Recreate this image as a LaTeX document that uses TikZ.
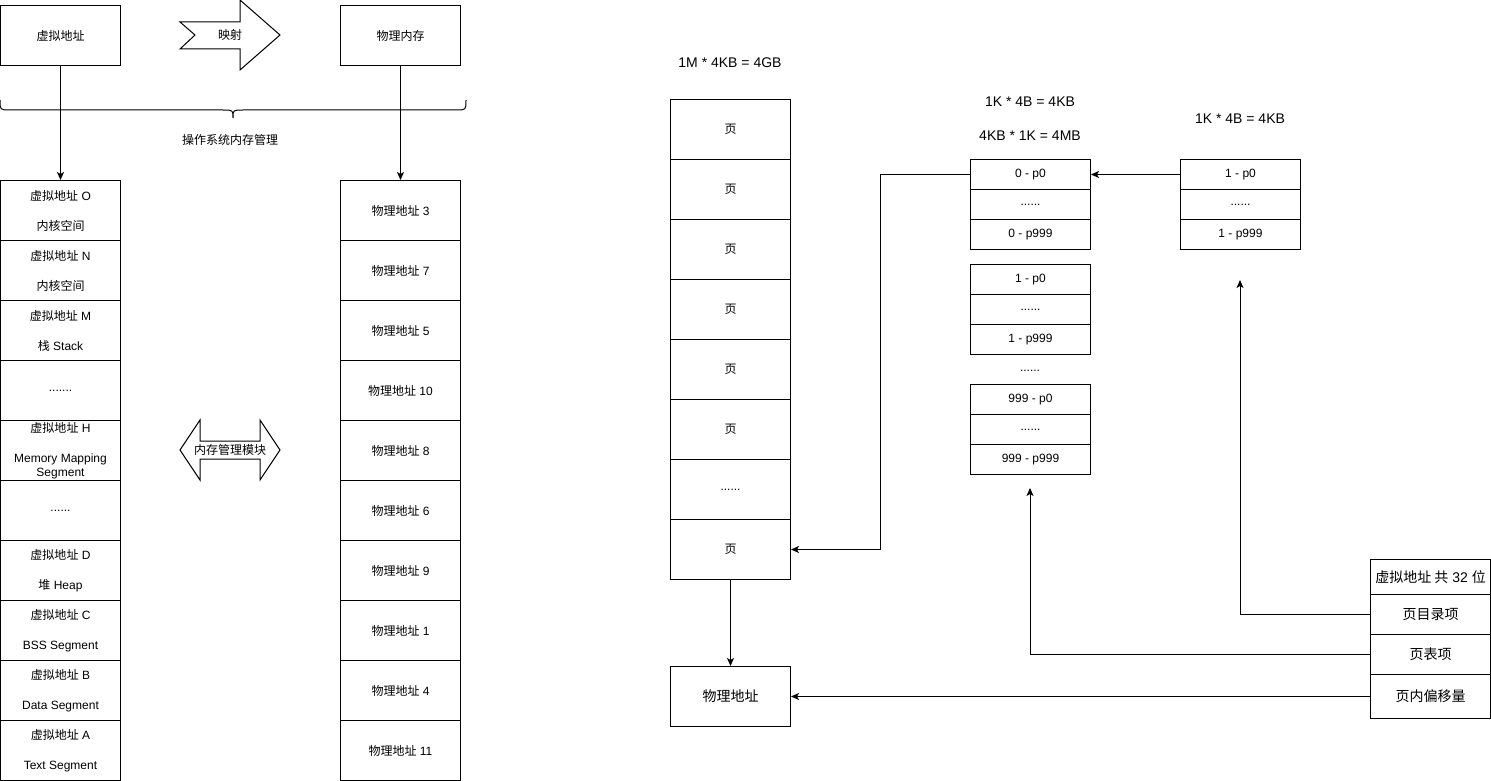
\documentclass[tikz,border=0pt]{standalone}
\usepackage{fontspec}
\setmainfont{Liberation Sans}
\newfontfamily\cjk{Noto Sans CJK SC}
\newcommand{\zh}[1]{{\cjk #1}}
\usetikzlibrary{arrows.meta}
\begin{document}
\begin{tikzpicture}[x=1pt,y=-1pt,
  cell/.style={draw, line width=1pt, minimum width=120pt, minimum height=60pt, inner sep=0pt, anchor=north west, align=center, font=\fontsize{12}{14}\selectfont},
  twoline/.style={cell, font=\fontsize{12}{30}\selectfont},
  tcell/.style={cell, minimum height=30pt},
  bigtxt/.style={font=\fontsize{14}{16}\selectfont},
  plain/.style={inner sep=0pt, font=\fontsize{12}{14}\selectfont},
  arr/.style={line width=1pt, -{Stealth[length=8pt,width=7pt,inset=2pt]}},
  ln/.style={line width=1pt}
]
\useasboundingbox (0,0) rectangle (1491,781);

% ---------- left part ----------
\node[cell] (vtop) at (0,5) {\zh{虚拟地址}};
\node[cell] (ptop) at (340,5) {\zh{物理内存}};

\draw[ln, fill=white] (180,22) -- (240,22) -- (240,0) -- (280,35) -- (240,70) -- (240,49) -- (180,49) -- (195,35) -- cycle;
\node[plain] (map) at (230,35) {\zh{映射}};

\draw[ln] (0,100) .. controls (0,110) .. (10,110) -- (223,110) .. controls (233,110) .. (233,118)
  .. controls (233,110) .. (243,110) -- (456,110) .. controls (466,110) .. (466,100);
\node[plain] (osm) at (230,140) {\zh{操作系统内存管理}};

\node[twoline] (vO) at (0,180) {\zh{虚拟地址} O\\\zh{内核空间}};
\node[twoline] (vN) at (0,240) {\zh{虚拟地址} N\\\zh{内核空间}};
\node[twoline] (vM) at (0,300) {\zh{虚拟地址} M\\\zh{栈} Stack};
\node[cell] (vd1) at (0,360) {.......};
\node[cell, font=\fontsize{12}{13.5}\selectfont] (vH) at (0,420) {\zh{虚拟地址} H\\[16.5pt]Memory Mapping\\Segment};
\node[cell] (vd2) at (0,480) {......};
\node[twoline] (vD) at (0,540) {\zh{虚拟地址} D\\\zh{堆} Heap};
\node[twoline] (vC) at (0,600) {\zh{虚拟地址} C\\BSS Segment};
\node[twoline] (vB) at (0,660) {\zh{虚拟地址} B\\Data Segment};
\node[twoline] (vA) at (0,720) {\zh{虚拟地址} A\\Text Segment};

\node[cell] (p3) at (340,180) {\zh{物理地址} 3};
\node[cell] (p7) at (340,240) {\zh{物理地址} 7};
\node[cell] (p5) at (340,300) {\zh{物理地址} 5};
\node[cell] (p10) at (340,360) {\zh{物理地址} 10};
\node[cell] (p8) at (340,420) {\zh{物理地址} 8};
\node[cell] (p6) at (340,480) {\zh{物理地址} 6};
\node[cell] (p9) at (340,540) {\zh{物理地址} 9};
\node[cell] (p1) at (340,600) {\zh{物理地址} 1};
\node[cell] (p4) at (340,660) {\zh{物理地址} 4};
\node[cell] (p11) at (340,720) {\zh{物理地址} 11};

\draw[arr] (vtop.south) -- (vO.north);
\draw[arr] (ptop.south) -- (p3.north);

\draw[ln, fill=white] (180,450) -- (200,420) -- (200,441) -- (260,441) -- (260,420) -- (280,450) -- (260,480) -- (260,459) -- (200,459) -- (200,480) -- cycle;
\node[plain] (mmu) at (230,450) {\zh{内存管理模块}};

% ---------- middle ----------
\node[bigtxt] (l4g) at (730,63) {1M * 4KB = 4GB};
\node[cell] (pg1) at (670,99) {\zh{页}};
\node[cell] (pg2) at (670,159) {\zh{页}};
\node[cell] (pg3) at (670,219) {\zh{页}};
\node[cell] (pg4) at (670,279) {\zh{页}};
\node[cell] (pg5) at (670,339) {\zh{页}};
\node[cell] (pg6) at (670,399) {\zh{页}};
\node[cell] (pg7) at (670,459) {......};
\node[cell] (pg8) at (670,519) {\zh{页}};
\node[cell, bigtxt] (pa) at (670,666) {\zh{物理地址}};
\draw[arr] (pg8.south) -- (pa.north);

% ---------- page tables ----------
\node[bigtxt] (l4k) at (1030,102) {1K * 4B = 4KB};
\node[bigtxt] (l4m) at (1030,136) {4KB * 1K = 4MB};
\node[bigtxt] (l4k2) at (1240,119) {1K * 4B = 4KB};

\node[tcell] (t00) at (970,159) {0 - p0};
\node[tcell] (t01) at (970,189) {......};
\node[tcell] (t02) at (970,219) {0 - p999};
\node[tcell] (t10) at (970,264) {1 - p0};
\node[tcell] (t11) at (970,294) {......};
\node[tcell] (t12) at (970,324) {1 - p999};
\node[plain] (tdots) at (1030,371) {......};
\node[tcell] (t90) at (970,384) {999 - p0};
\node[tcell] (t91) at (970,414) {......};
\node[tcell] (t92) at (970,444) {999 - p999};

\node[tcell] (d0) at (1180,159) {1 - p0};
\node[tcell] (d1) at (1180,189) {......};
\node[tcell] (d2) at (1180,219) {1 - p999};

\draw[arr] (d0.west) -- (t00.east);
\draw[arr] (t00.west) -- ++(-90,0) |- (pg8.east);

% ---------- virtual address ----------
\node[cell, bigtxt, minimum height=35pt] (va0) at (1370,559) {\zh{虚拟地址 共} 32 \zh{位}};
\node[cell, bigtxt, minimum height=40pt] (va1) at (1370,594) {\zh{页目录项}};
\node[cell, bigtxt, minimum height=40pt] (va2) at (1370,634) {\zh{页表项}};
\node[cell, bigtxt, minimum height=44pt] (va3) at (1370,674) {\zh{页内偏移量}};

\coordinate (e1) at (1240,280);
\coordinate (e2) at (1030,488);
\draw[arr] (va1.west) -| (e1);
\draw[arr] (va2.west) -| (e2);
\draw[arr] (va3.west) -- (pa.east);
\end{tikzpicture}
\end{document}
